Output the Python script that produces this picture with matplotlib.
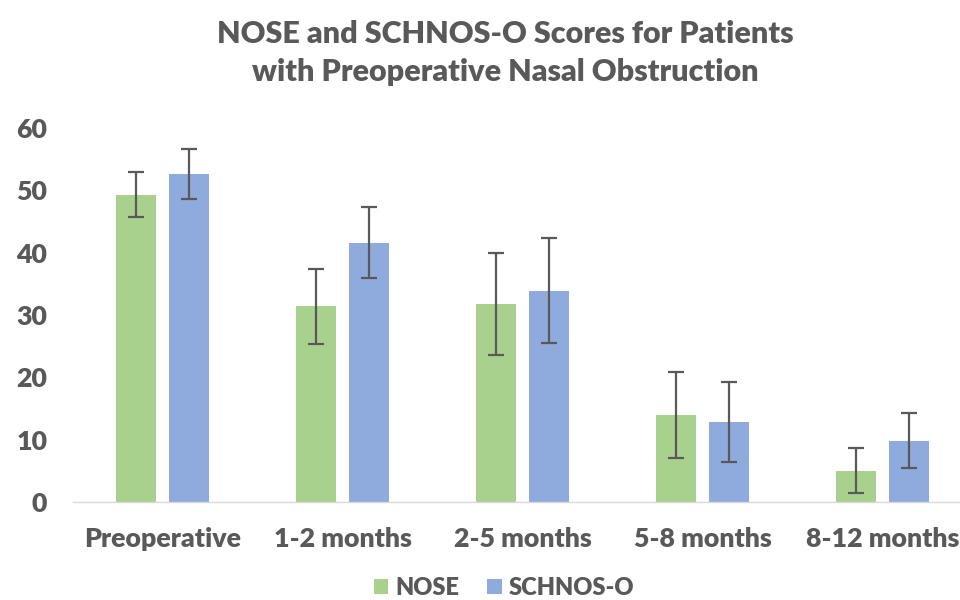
import matplotlib
matplotlib.use("Agg")
import matplotlib.pyplot as plt
import numpy as np

categories = ["Preoperative", "1-2 months", "2-5 months", "5-8 months", "8-12 months"]
nose = [49.3, 31.4, 31.8, 13.9, 5.0]
nose_err = [3.6, 6.0, 8.2, 6.9, 3.6]
schnos = [52.6, 41.6, 33.9, 12.8, 9.8]
schnos_err = [4.0, 5.7, 8.4, 6.4, 4.4]
yticks = [0, 10, 20, 30, 40, 50, 60]

GRAY = "#595959"
FONT = ["Lato", "DejaVu Sans"]
plt.rcParams["font.family"] = FONT

fig = plt.figure(figsize=(9.6, 6), dpi=100)
ax = fig.add_axes([72.5 / 960, 1 - 502 / 600, 900 / 960, (502 - 128) / 600])

x = np.arange(len(categories))
w = 0.222
off = 0.146
ekw = dict(ecolor=GRAY, elinewidth=1.6, capsize=6, capthick=1.6)
ax.bar(x - off, nose, w, color="#A9D18E", yerr=nose_err, error_kw=ekw, label="NOSE")
ax.bar(x + off, schnos, w, color="#8FAADC", yerr=schnos_err, error_kw=ekw, label="SCHNOS-O")

ax.set_xlim(-0.5, len(categories) - 0.5)
ax.set_ylim(0, 60)
ax.set_yticks(yticks)
ax.set_xticks(x)
ax.set_xticklabels(categories)
for s in ["top", "right", "left"]:
    ax.spines[s].set_visible(False)
ax.spines["bottom"].set_color("#D9D9D9")
ax.spines["bottom"].set_linewidth(1.0)
ax.tick_params(axis="both", length=0, labelsize=19.3, labelcolor=GRAY)
ax.tick_params(axis="y", pad=18)
ax.tick_params(axis="x", pad=18)
for lab in ax.get_xticklabels() + ax.get_yticklabels():
    lab.set_fontweight("heavy")
labs = ax.get_xticklabels()
labs[-1].set_x(labs[-1].get_position()[0])

fig.text(505 / 960, 1 - 53 / 600,
         "NOSE and SCHNOS-O Scores for Patients\nwith Preoperative Nasal Obstruction",
         ha="center", va="center", fontsize=22, fontweight="heavy", color=GRAY,
         linespacing=1.4)

leg = fig.legend(loc="center", bbox_to_anchor=(504 / 960, 1 - 588 / 600), ncol=2,
                 frameon=False, handlelength=0.6, handleheight=0.6, handletextpad=0.3,
                 columnspacing=1.2, borderpad=0.1, prop={"size": 17, "weight": "heavy"})
for t in leg.get_texts():
    t.set_color(GRAY)

fig.savefig("out.png", dpi=100)
